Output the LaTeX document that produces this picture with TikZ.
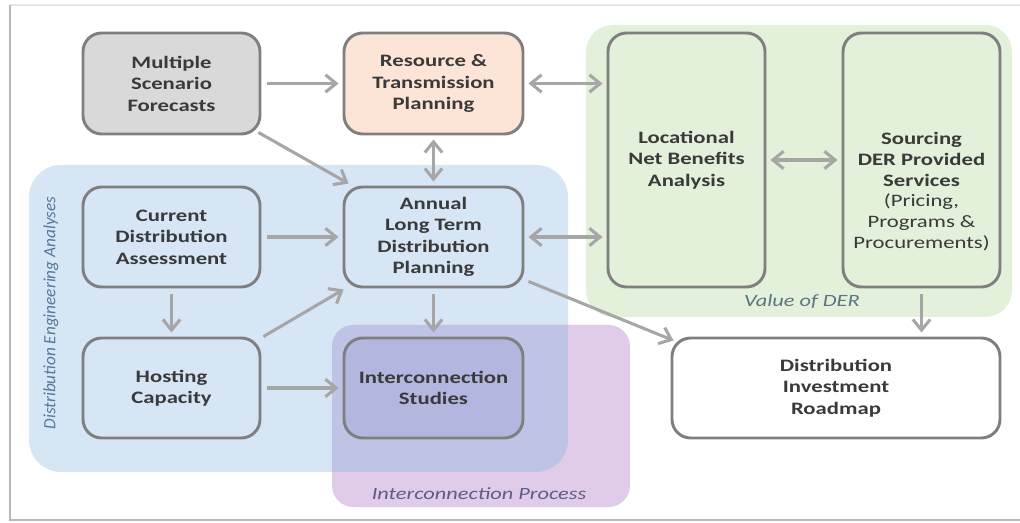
\documentclass[tikz,border=0pt]{standalone}
\usepackage{fontspec}
\setmainfont{Carlito}[FakeStretch=1.3]
\newfontfamily\rotfont{Carlito}
\usetikzlibrary{arrows.meta,calc}
\definecolor{bluereg}{HTML}{D7E6F5}
\definecolor{greenreg}{HTML}{E3F0DA}
\definecolor{purpreg}{HTML}{E0CCE9}
\definecolor{overlapreg}{HTML}{BFC3E6}
\definecolor{isfill}{HTML}{B3B6DE}
\definecolor{msffill}{HTML}{D9D9D9}
\definecolor{rtpfill}{HTML}{FCE4D6}
\definecolor{bordergray}{HTML}{7F7F7F}
\definecolor{textgray}{HTML}{3A3A3A}
\definecolor{arrowgray}{HTML}{A6A6A6}
\definecolor{bluelabel}{HTML}{56779E}
\definecolor{purplabel}{HTML}{5E5B85}
\definecolor{greenlabel}{HTML}{5A7684}
\begin{document}
\begin{tikzpicture}[x=0.75pt,y=-0.75pt,
  box/.style={draw=bordergray, line width=2.2pt, rounded corners=14pt,
    align=center, inner sep=0pt, text=textgray,
    font=\bfseries\fontsize{13.1}{16.1}\selectfont},
  wbox/.style={box, minimum width=132.75pt, minimum height=75pt},
  tallbox/.style={box, minimum width=117.75pt, minimum height=190.5pt},
  txt/.style={align=center, inner sep=0pt, text=textgray,
    font=\fontsize{13.1}{15.6}\selectfont},
  regionlabel/.style={inner sep=0pt, font=\itshape\fontsize{12.9}{15}\selectfont},
  barb/.tip={Straight Barb[length=8pt,width=13pt]},
  arr/.style={draw=arrowgray, line width=2.3pt, -barb, shorten >=3pt, shorten <=4pt},
  darr/.style={draw=arrowgray, line width=2.3pt, barb-barb, shorten >=3pt, shorten <=3pt}
]
\useasboundingbox (0,0) rectangle (1020,523);
% frame
\draw[black!10, line width=1pt] (10,5) -- (1020,5);
\draw[black!28, line width=1.6pt] (10,5) -- (10,520) -- (1020,520);
% regions
\fill[bluereg, rounded corners=24pt] (29,165) rectangle (568,472);
\fill[greenreg, rounded corners=20pt] (586,25) rectangle (1012,317);
\fill[purpreg, rounded corners=16pt] (332,325) rectangle (630,507);
\begin{scope}
  \clip[rounded corners=24pt] (29,165) rectangle (568,472);
  \fill[overlapreg, rounded corners=16pt] (332,325) rectangle (630,507);
\end{scope}
% region labels
\node[regionlabel, text=bluelabel, rotate=90, font=\rotfont\itshape\fontsize{12.9}{15}\selectfont] (dea) at (51,313) {Distribution Engineering Analyses};
\node[regionlabel, text=purplabel] (icp) at (479,494) {Interconnection Process};
\node[regionlabel, text=greenlabel] (vod) at (802,302) {Value of DER};
% boxes
\node[wbox, fill=msffill, minimum height=75.75pt] (MSF) at (171.5,83.5) {Multiple\\Scenario\\Forecasts};
\node[wbox, fill=rtpfill, minimum width=134.25pt, minimum height=75.75pt] (RTP) at (433.5,83.5) {Resource \&\\Transmission\\Planning};
\node[tallbox] (Loc) at (686.5,160) {Locational\\Net Benefits\\Analysis};
\node[tallbox] (Src) at (921.5,160) {};
\node[txt] (srctext) at (921.5,191.5) {\textbf{Sourcing}\\\textbf{DER Provided}\\\textbf{Services}\\(Pricing,\\Programs \&\\Procurements)};
\node[wbox] (CDA) at (171.5,237) {Current\\Distribution\\Assessment};
\node[wbox, minimum width=134.25pt] (ALT) at (433.5,237) {Annual\\Long Term\\Distribution\\Planning};
\node[wbox] (HC) at (171.5,388) {Hosting\\Capacity};
\node[wbox, fill=isfill, minimum width=134.25pt] (IS) at (433.5,388) {Interconnection\\Studies};
\node[wbox, fill=white, minimum width=246pt] (DIR) at (836,388) {Distribution\\Investment\\Roadmap};
% connectors
\draw[arr] (MSF.east) -- (RTP.west);
\draw[arr, shorten <=0pt, shorten >=0pt] ($(MSF.south east)+(-3,-3)$) -- ($(ALT.north west)+(6,-2)$);
\draw[darr] (RTP.south) -- (ALT.north);
\draw[darr] (RTP.east) -- (RTP.east -| Loc.west);
\draw[darr] (ALT.east) -- (ALT.east -| Loc.west);
\draw[darr] (Loc.east) -- (Src.west);
\draw[arr] (CDA.east) -- (ALT.west);
\draw[arr] (CDA.south) -- (HC.north);
\draw[arr, shorten <=0pt, shorten >=0pt] ($(HC.north east)+(2,0)$) -- ($(ALT.south west)+(1,1)$);
\draw[arr] (ALT.south) -- (IS.north);
\draw[arr] (HC.east) -- (IS.west);
\draw[arr, shorten <=0pt, shorten >=0pt] ($(ALT.south east)+(4,-7)$) -- ($(DIR.north west)+(3,4)$);
\draw[arr] (Src.south) -- (Src.south |- DIR.north);
\end{tikzpicture}
\end{document}
